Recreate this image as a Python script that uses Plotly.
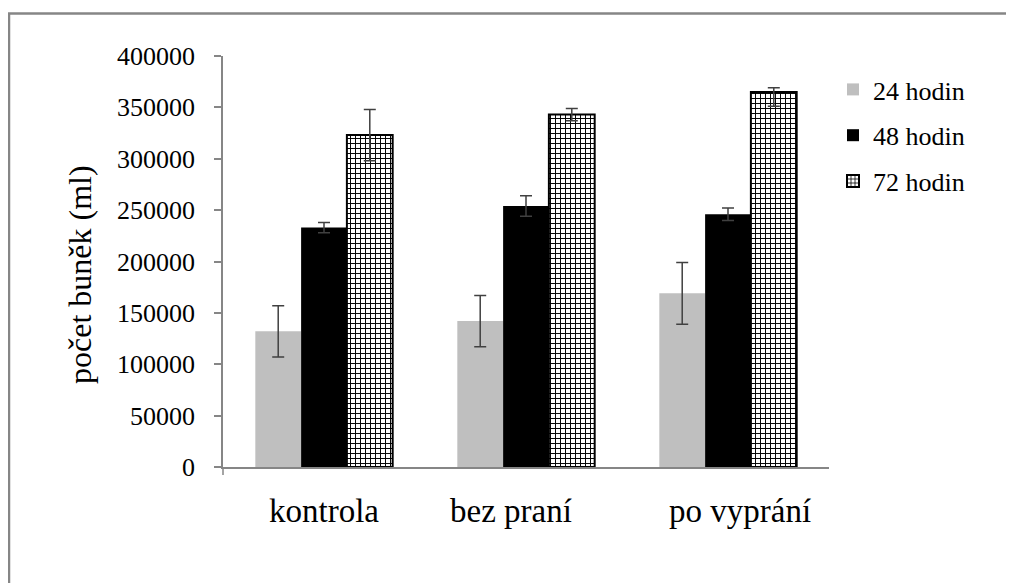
import plotly.graph_objects as go

categories = ["kontrola", "bez praní", "po vyprání"]
series_names = ["24 hodin", "48 hodin", "72 hodin"]
h24 = [132000, 142000, 169000]
e24 = [25000, 25000, 30000]
h48 = [233000, 254000, 246000]
e48 = [5000, 10000, 6000]
h72 = [323000, 343000, 365000]
e72_plus = [25000, 6000, 4000]
e72_minus = [25000, 6000, 14000]
y_ticks = [0, 50000, 100000, 150000, 200000, 250000, 300000, 350000, 400000]
y_title = "počet buněk (ml)"

label_xshift = [0, -15, 12]

FONT = "'Times New Roman', 'Liberation Serif', Tinos, serif"
AXIS_GREY = "#868686"
ERR = "#404040"

fig = go.Figure()
fig.add_trace(go.Bar(
    x=categories, y=h24, name=series_names[0], legendgroup="a",
    marker=dict(color="#bfbfbf", line=dict(width=0)),
    error_y=dict(type="data", array=e24, color=ERR, thickness=1.5, width=6),
))
fig.add_trace(go.Bar(
    x=categories, y=h48, name=series_names[1], legendgroup="b",
    marker=dict(color="#000000", line=dict(width=0)),
    error_y=dict(type="data", array=e48, color=ERR, thickness=1.5, width=6),
))
fig.add_trace(go.Bar(
    x=categories, y=h72, name=series_names[2], legendgroup="c",
    marker=dict(color="#ffffff", line=dict(color="#000000", width=2),
                pattern=dict(shape="+", fgcolor="#000000", bgcolor="#ffffff",
                             size=5, solidity=0.35, fillmode="replace")),
    error_y=dict(type="data", array=e72_plus, arrayminus=e72_minus, symmetric=False,
                 color=ERR, thickness=1.5, width=6),
))

# page has an 8px body margin; work in page pixel coordinates
OFF = 8
W, H = 1014 - OFF, 583 - OFF
L, T = 223 - OFF, 56 - OFF
pw, ph = 606, 411
R = W - L - pw
B = H - T - ph

def px_x(px):
    return (px - OFF - L) / pw

def px_y(py):
    return (T + ph - (py - OFF)) / ph

annotations = []
for cat, dx in zip(categories, label_xshift):
    annotations.append(dict(
        x=cat, xref="x", y=px_y(511), yref="paper", text=cat, showarrow=False,
        xshift=dx, yanchor="middle", xanchor="center",
        font=dict(family=FONT, size=33, color="#000000"),
    ))
annotations.append(dict(
    x=px_x(80), xref="paper", y=px_y(275), yref="paper", text=y_title,
    showarrow=False, textangle=-90, xanchor="center", yanchor="middle",
    font=dict(family=FONT, size=32, color="#000000"),
))

shapes = [
    dict(type="rect", xref="paper", yref="paper",
         x0=px_x(9), x1=px_x(1040), y0=px_y(620), y1=px_y(13.5),
         line=dict(color=AXIS_GREY, width=2.5), fillcolor="rgba(0,0,0,0)", layer="below"),
    dict(type="line", xref="paper", yref="paper",
         x0=0, x1=0, y0=0, y1=px_y(475),
         line=dict(color=AXIS_GREY, width=1.5)),
]

fig.update_layout(
    width=W, height=H,
    margin=dict(l=L, r=R, t=T, b=B, pad=0),
    paper_bgcolor="#ffffff", plot_bgcolor="#ffffff",
    barmode="group", bargap=0.32, bargroupgap=0,
    font=dict(family=FONT, color="#000000"),
    showlegend=True,
    legend=dict(
        x=px_x(833), y=px_y(66), xanchor="left", yanchor="top",
        font=dict(family=FONT, size=26, color="#000000"),
        traceorder="grouped", tracegroupgap=9,
        bgcolor="rgba(0,0,0,0)", borderwidth=0,
    ),
    xaxis=dict(
        type="category", showticklabels=False, showline=True, linecolor=AXIS_GREY,
        linewidth=1.5, ticks="", showgrid=False, zeroline=False,
    ),
    yaxis=dict(
        range=[0, 400000], tickvals=y_ticks, tickformat="d",
        showline=True, linecolor=AXIS_GREY, linewidth=1.5,
        ticks="outside", ticklen=7, tickcolor=AXIS_GREY, tickwidth=1.5,
        showgrid=False, zeroline=False,
        tickfont=dict(family=FONT, size=26, color="#000000"),
        ticklabelstandoff=14,
    ),
    annotations=annotations,
    shapes=shapes,
)

fig.write_html("out.html")
